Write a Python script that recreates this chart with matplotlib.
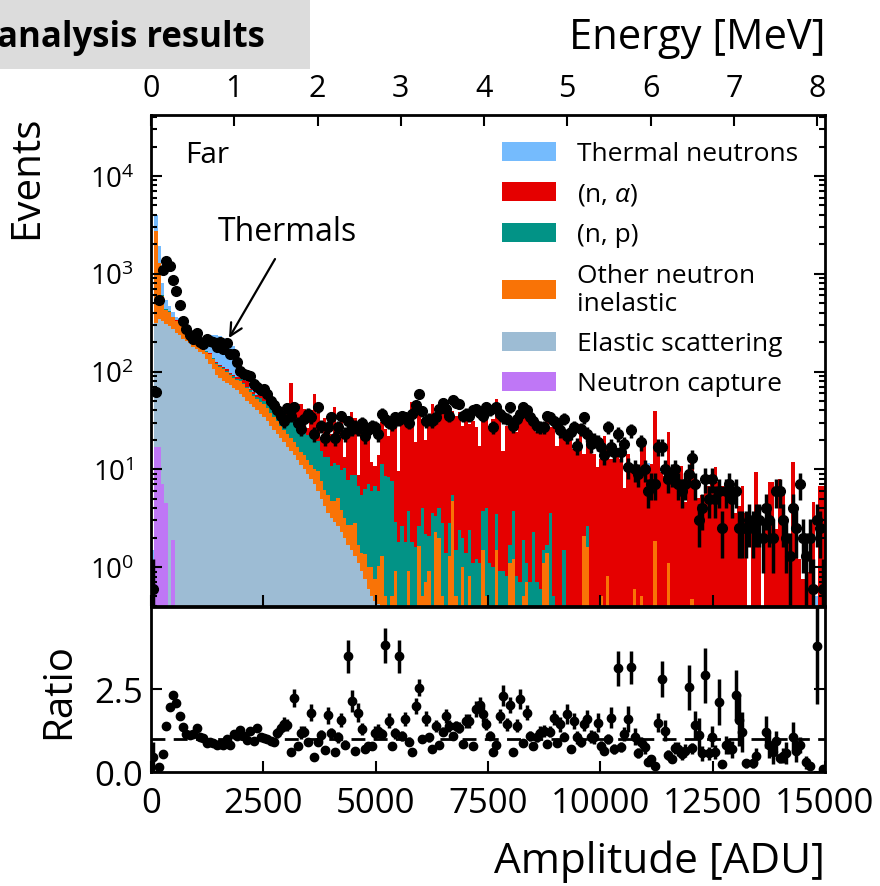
import numpy as np
import matplotlib
matplotlib.use("Agg")
import matplotlib.pyplot as plt
from matplotlib.patches import Rectangle

plt.rcParams['font.family'] = ['Open Sans', 'DejaVu Sans']
plt.rcParams['mathtext.fontset'] = 'custom'
plt.rcParams['mathtext.rm'] = 'Open Sans'
plt.rcParams['mathtext.it'] = 'Open Sans:italic'

# binning: 200 bins of 75 ADU
bin_width = 75
n_bins = 200
adu_per_mev = 1853.0

# ---- simulated components (events per bin) ----
capture = [0, 17, 17, 7, 4.5, 0, 1.9] + [0] * 193

elastic = [0, 300, 330, 320, 300, 290, 270, 250, 235, 215,
           205, 195, 180, 170, 160, 150, 135, 120, 105, 92,
           85, 80, 76, 72, 68, 64, 59, 55, 50, 46,
           43, 40, 37, 34, 31, 28, 25, 23, 21, 19,
           17, 15.5, 14, 12.5, 11, 10, 9, 8, 7, 6,
           5, 4.2, 3.6, 3.2, 2.9, 2.6, 2.3, 2.0, 1.7, 1.5,
           1.3, 1.1, 0.9, 0.75, 0.6, 0.5, 0.45, 0.42] + [0] * 132

other_inel = [0, 2400, 950, 270, 125, 120, 88, 80, 85, 75,
              48, 40, 35, 30, 28, 25, 25, 30, 30, 28,
              27, 26, 24, 20, 18, 18, 21, 19, 18, 16,
              13, 12, 12, 12, 11, 10, 9, 8, 7, 6.5,
              6, 5.5, 5, 4.5, 4, 4, 3.5, 3, 3, 3.5,
              2.5, 2, 1.8, 1.5, 1.8, 2.5, 1.5, 1.2, 1, 1.2,
              1.5, 0.6, 0.5, 0.6, 0.4, 0.5, 0.3, 0.6,
              1.3, 0.5, 0.4, 0.5, 0.9, 0.3, 0.4, 0.3, 0.9, 0.3,
              0.4, 1.65, 0.5, 0.7, 0.9, 0.4, 2.3, 2.0, 0.5, 0.4,
              1.3, 4.7, 0.5, 0.4, 1.0, 0.4, 0.8, 0.3, 0.4, 0.3,
              1.5, 0.5, 0.3, 0.4, 1.5, 0.3, 0.4, 0.3, 1.1, 1.2,
              0.3, 0.3, 0.5, 0.7, 0.3, 0.3, 0.3, 0.3, 1.1, 1.4,
              0.3, 0.2, 0, 0, 0, 0, 0, 0, 0, 0,
              2.1, 1.6, 0, 0, 0, 0.5, 0, 0.8, 0, 0,
              0, 0, 0, 0, 0, 0.6, 0, 0.5, 0, 0,
              0, 1.86, 0, 0, 0, 1.1, 0, 0, 0, 0,
              0, 0, 0.47] + [0] * 39

n_p = [0, 6, 5, 4, 3, 3, 2, 2, 3, 2,
       2, 3, 2, 2, 2, 3, 2, 2, 2, 2,
       2, 3, 2, 2, 3, 2, 3, 3, 2, 3,
       3, 3, 4, 4, 5, 6, 7, 8, 9, 10,
       10, 11, 12, 11, 12, 12, 10, 11, 9, 10,
       8, 7, 8, 6, 7, 6, 6, 7, 5, 6,
       6, 5, 4, 5, 6, 5, 6, 5,
       10, 8, 8, 7, 2, 1.5, 2.2, 1.5, 2.8, 1.5,
       1.2, 1.0, 3.5, 1.5, 1.2, 3.2, 1.0, 2.0, 2.3, 1.0,
       1.5, 0.8, 1.0, 2.0, 1.0, 1.0, 1.6, 0.8, 0.8, 0.8,
       2.2, 3.5, 0.8, 0.6, 2.0, 0.6, 0.5, 0.5, 0.6, 2.5,
       0.5, 0.4, 1.4, 0.4, 0.4, 2.0, 0.4, 0.3, 0.4, 0.3,
       3.3, 0.3, 0.3, 0.3, 1.5, 0.3, 0.3, 0, 0, 0,
       0, 1.0] + [0] * 70

n_alpha = [0, 0, 0, 0, 0, 0, 0, 1, 1, 1,
           1, 1, 1, 2, 2, 2, 2, 2, 2, 2,
           3, 3, 5, 3, 3, 4, 4, 4, 10, 2,
           3, 2, 5, 8, 12, 10, 5, 8, 6, 8,
           8, 45, 12, 15, 20, 15, 4, 18, 40, 18,
           6, 20, 15, 12, 32, 18, 25, 3, 18, 30,
           25, 2, 18, 22, 20, 6, 4, 8,
           19, 17.4, 13.7, 21.6, 25.1, 7.9, 30.1, 28.5, 23.2, 46.7,
           17.3, 42.2, 28.7, 17.5, 33.3, 43, 29.4, 34.3, 47.7, 38.4,
           27.5, 34.3, 33.9, 35.9, 26, 31.3, 26.7, 30.4, 25.7, 16.4,
           31.7, 30, 26.9, 31.7, 48.5, 35.9, 14.6, 27.2, 29.8, 22.2,
           23.1, 32, 37.9, 43.7, 29.6, 24.6, 23.2, 26.3, 27.6, 31,
           23.3, 26.4, 17.2, 25.6, 20.6, 23.6, 21.8, 16.1, 20.4, 29.1,
           12.3, 16.3, 17.5, 14.4, 10.5, 12.3, 22.1, 15.3, 12.8, 13.8,
           14.4, 12.8, 6.5, 14.4, 9.3, 9.1, 10.9, 19.9, 17.5, 10.9,
           11.4, 37.9, 15.2, 9.3, 8.6, 22.8, 9.3, 8.0, 10.9, 10.9,
           4.6, 8.0, 11.3, 4.8, 5.1, 5.4, 9.7, 6.8, 8.0, 10.5,
           7.4, 6.8, 5.4, 5.0, 5.4, 3.6, 4.2, 6.8, 3.6, 0,
           3.1, 9.3, 2.65, 0, 2.65, 7.4, 7.4, 2.45, 8.0, 5.4,
           2.65, 1.94, 11.8, 2.26, 1.2, 0.76, 0.89, 0.89, 4.6, 0,
           6.8, 6.8]

thermal = [1.5, 1300, 600, 200, 100, 60, 40, 30, 25, 20,
           15, 12, 12, 12, 15, 20, 40, 85, 100, 110,
           112, 110, 105, 100, 90, 60, 18, 10, 8, 6,
           4, 3, 2, 2, 1, 1, 1] + [0] * 51 + [0.8] + [0] * 58 + [0.8] + [0] * 39 + [0.6] + [0] * 9 + [0.5, 0, 0]

# ---- measured data (events per bin) ----
data = [0.6, 62, 545, 1100, 1365, 1200, 870, 660, 480, 330,
        270, 236, 215, 250, 200, 190, 215, 206, 199, 178,
        200, 170, 196, 150, 151, 126, 102, 94, 92, 89,
        75, 69, 64, 66, 59, 50, 45, 40, 35, 31,
        42, 35, 43, 30, 26, 33, 37, 34, 23, 43,
        28, 21, 27, 34, 21, 27, 35, 23, 31, 26,
        28, 26, 30, 22, 25, 28, 27, 23, 37, 33,
        30, 29, 34, 32, 35, 34, 30, 37, 45, 59,
        39, 31, 33, 31, 34, 41, 48, 41, 35, 51,
        48, 47, 35, 37, 35, 40, 41, 38, 35, 43,
        40, 27, 43, 37, 34, 33, 43, 28, 33, 37,
        43, 40, 34, 31, 28, 27, 27, 35, 34, 31,
        29, 25, 33, 22, 24, 27, 17.5, 26, 34, 23,
        18, 20, 19, 17, 14, 27, 17, 15, 23, 15,
        18, 10.5, 25, 10, 9, 19, 10, 6, 7, 7,
        17, 17, 10, 8, 9, 10, 7, 6, 7, 9,
        13, 7, 3, 4, 8, 5, 8, 5, 6, 2.5,
        6, 7, 5, 6, 2.5, 2.5, 2.5, 3, 2.5, 3,
        3, 2, 4, 3, 2, 6, 6, 3, 2, 1.3,
        4, 2.5, 7, 2, 1.3, 2, 0.6, 3, 2.5, 0.6]

nan = np.nan
ratio = [0.45, nan, 0.14, 0.54, 1.39, 1.95, 2.33, 2.07, 1.70, 1.36,
         1.14, 1.11, 1.14, 1.34, 1.07, 1.01, 0.87, 0.89, 0.87, 0.82,
         0.84, 0.82, 0.99, 0.82, 1.14, 1.09, 1.27, 1.09, 0.97, 1.24,
         0.94, 1.32, 1.07, 1.01, 0.99, 0.94, 0.89, 1.19, 1.34, 1.44,
         1.41, 0.59, 2.22, 0.79, 1.19, 1.21, 0.89, 1.79, 0.45, 0.89,
         1.11, 0.66, 1.71, 1.17, 0.59, 1.05, 1.56, 0.82, 3.48, 2.14,
         0.62, 1.79, 1.29, 0.68, 0.79, 0.79, 1.19, 1.24, 1.14, 3.82,
         1.54, 0.79, 1.17, 3.48, 1.09, 1.59, 0.91, 0.59, 2.0, 2.54,
         0.99, 1.61, 1.04, 0.69, 1.39, 0.81, 1.21, 1.69, 1.39, 1.09,
         1.39, 1.34, 0.84, 1.54, 1.54, 0.77, 1.89, 2.01, 1.74, 1.44,
         1.09, 0.59, 0.82, 1.69, 2.30, 1.44, 2.01, 0.59, 1.39, 2.20,
         0.87, 1.79, 1.09, 0.79, 1.07, 1.19, 1.24, 0.84, 1.21, 1.64,
         0.87, 1.44, 1.07, 1.74, 0.69, 1.54, 1.04, 0.91, 1.44, 1.61,
         1.07, 1.04, 1.49, 0.79, 0.64, 0.99, 1.64, 0.69, 3.12, 0.76,
         1.14, 1.59, 3.15, 1.07, 0.57, 0.89, 0.74, 0.29, 0.39, 0.19,
         1.49, 2.80, 1.24, 0.51, 0.39, 0.71, 0.69, 0.54, 0.64, 2.55,
         0.71, 1.41, 1.11, 0.56, 2.92, 0.56, 1.07, 0.59, 2.12, 0.24,
         0.81, 0.79, 0.68, 2.32, 1.56, 1.21, 0.27, nan, 0.27, 0.49,
         nan, nan, 1.21, 0.81, 0.59, 0.94, 0.41, 0.49, 0.57, nan,
         1.07, 0.64, 0.81, nan, 0.29, 0.19, nan, 3.8, nan, 0.1]

layers = [
    (capture, 'xkcd:light purple', 'Neutron capture'),
    (elastic, 'xkcd:light grey blue', 'Elastic scattering'),
    (other_inel, 'xkcd:orange', 'Other neutron\ninelastic'),
    (n_p, 'xkcd:teal', '(n, p)'),
    (n_alpha, 'xkcd:red', r'(n, $\alpha$)'),
    (thermal, 'xkcd:sky blue', 'Thermal neutrons'),
]

edges = np.arange(n_bins + 1) * bin_width
centers = edges[:-1] + bin_width / 2
data = np.array(data, dtype=float)
ratio = np.array(ratio, dtype=float)

fig = plt.figure(figsize=(8.8, 8.87), dpi=100)
ax = fig.add_axes([0.1716, 0.3157, 0.7659, 0.5535])
rax = fig.add_axes([0.1716, 0.1285, 0.7659, 0.186], sharex=ax)

base = np.full(n_bins, 1e-3)
handles = []
for vals, col, lab in layers:
    top = base + np.array(vals, dtype=float)
    h = ax.stairs(top, edges, baseline=base, fill=True, color=col, lw=0, label=lab)
    handles.append(h)
    base = top

ax.errorbar(centers, data, yerr=0.8 * np.sqrt(data), fmt='o', color='black',
            ms=7, elinewidth=2.5, capsize=0, zorder=5)

ax.set_yscale('log')
ax.set_ylim(0.4, 4.2e4)
ax.set_xlim(0, 15000)
ax.tick_params(which='both', direction='in', right=True, top=False, labelbottom=False,
               labelsize=20, width=1.5, pad=12)
ax.tick_params(which='major', length=8)
ax.tick_params(which='minor', length=4)
for s in ax.spines.values():
    s.set_linewidth(2)
ax.set_ylabel('Events', fontsize=29, loc='top')
ax.yaxis.set_label_coords(-0.154, 1.0)

ax.legend(handles=handles[::-1], loc='upper right', frameon=False, fontsize=19,
          handlelength=2.04, handleheight=0.72, handletextpad=0.83,
          labelspacing=0.57, borderpad=0.5, borderaxespad=0.5)

ax.text(0.05, 0.92, 'Far', transform=ax.transAxes, fontsize=21.5, va='center', ha='left')
ax.text(0.099, 0.762, 'Thermals', transform=ax.transAxes, fontsize=23, va='center', ha='left')
ax.annotate('', xy=(0.1157, 0.5458), xycoords='axes fraction',
            xytext=(0.184, 0.7067), textcoords='axes fraction',
            arrowprops=dict(arrowstyle='->', lw=1.6, color='black',
                            shrinkA=0, shrinkB=0, mutation_scale=22))

sec = ax.secondary_xaxis('top', functions=(lambda a: a / adu_per_mev, lambda e: e * adu_per_mev))
sec.set_xticks(np.arange(0, 9))
sec.tick_params(direction='in', length=8, width=1.5, labelsize=22, pad=9)
sec.set_xlabel('Energy [MeV]', fontsize=30, loc='right', labelpad=18)

# ratio panel
rax.errorbar(centers, ratio, yerr=0.8 * ratio / np.sqrt(data), fmt='o', color='black',
             ms=6, elinewidth=2.5, capsize=0)
rax.axhline(1.0, color='black', ls=(0, (5, 3)), lw=2)
rax.set_ylim(0, 4.97)
rax.set_yticks([0, 2.5])
rax.set_yticklabels(['0.0', '2.5'])
rax.set_xticks(np.arange(0, 15001, 2500))
rax.tick_params(which='both', direction='in', right=True, labelsize=25, width=1.5, length=8)
rax.tick_params(axis='y', pad=6)
rax.tick_params(axis='x', pad=10)
for s in rax.spines.values():
    s.set_linewidth(2)
rax.set_ylabel('Ratio', fontsize=29)
rax.yaxis.set_label_coords(-0.107, 0.5)
rax.set_xlabel('Amplitude [ADU]', fontsize=30.5, loc='right', labelpad=14)

# header box, cut at the left edge
fig.patches.append(Rectangle((0, 1 - 70 / 887), 310 / 880, 70 / 887, transform=fig.transFigure,
                             facecolor='#dcdcdc', edgecolor='none', zorder=0))
fig.text(-0.003, 1 - 47 / 887, 'analysis results', fontsize=25, fontweight='bold',
         ha='left', va='baseline')

fig.savefig('out.png', dpi=100)
